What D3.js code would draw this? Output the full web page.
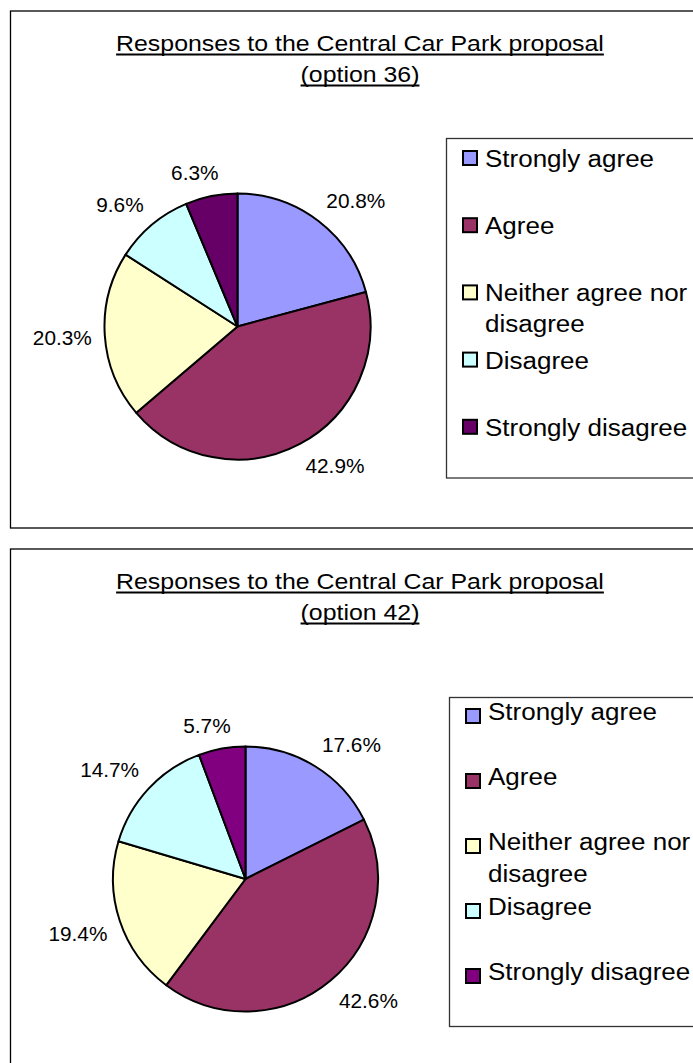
<!DOCTYPE html>
<html>
<head>
<meta charset="utf-8">
<script src="https://cdn.jsdelivr.net/npm/d3@7"></script>
<style>
  html, body { margin: 0; padding: 0; background: #ffffff; }
  svg { display: block; }
  text { font-family: "Liberation Sans", Arial, Helvetica, sans-serif; fill: #000; }
</style>
</head>
<body>
<svg id="chart" width="693" height="1063"></svg>
<script>
// Response categories, shared by both charts
const categories = ["Strongly agree", "Agree", "Neither agree nor disagree", "Disagree", "Strongly disagree"];
// Legend text, broken into the lines it wraps onto
const legendLines = [["Strongly agree"], ["Agree"], ["Neither agree nor", "disagree"], ["Disagree"], ["Strongly disagree"]];

// Share of responses (%) for each option
const option36Values = [20.8, 42.9, 20.3, 9.6, 6.3];
const option42Values = [17.6, 42.6, 19.4, 14.7, 5.7];

// Slice colours
const option36Colors = ["#9999FF", "#993366", "#FFFFCC", "#CCFFFF", "#660066"];
const option42Colors = ["#9999FF", "#993366", "#FFFFCC", "#CCFFFF", "#800080"];

// Chart titles
const option36Title = ["Responses to the Central Car Park proposal", "(option 36)"];
const option42Title = ["Responses to the Central Car Park proposal", "(option 42)"];

const svg = d3.select("#chart");
svg.append("rect").attr("width", 693).attr("height", 1063).attr("fill", "#fff");

// Stretch a text element horizontally by factor k; returns the stretched width
function stretch(sel, k) {
  let w = 0;
  sel.each(function () {
    const len = this.getComputedTextLength();
    w = len * k;
    d3.select(this).attr("textLength", w).attr("lengthAdjust", "spacingAndGlyphs");
  });
  return w;
}

function drawChart(cfg) {
  const g = svg.append("g");

  // outer chart frame
  g.append("rect")
    .attr("x", cfg.frame.x).attr("y", cfg.frame.y)
    .attr("width", cfg.frame.w).attr("height", cfg.frame.h)
    .attr("fill", "#fff").attr("stroke", "#000").attr("stroke-width", 1.3);

  // underlined two-line title
  cfg.title.forEach((line, i) => {
    const y = cfg.titleY + i * cfg.titleStep;
    const t = g.append("text")
      .attr("x", cfg.titleX).attr("y", y)
      .attr("text-anchor", "middle")
      .attr("font-size", 22)
      .text(line);
    const w = stretch(t, 1.13);
    g.append("line")
      .attr("x1", cfg.titleX - w / 2).attr("x2", cfg.titleX + w / 2)
      .attr("y1", y + 3.5).attr("y2", y + 3.5)
      .attr("stroke", "#000").attr("stroke-width", 1.8);
  });

  // pie
  const pie = d3.pie().sort(null).value(d => d)(cfg.values);
  const arc = d3.arc().innerRadius(0).outerRadius(cfg.r);
  const pg = g.append("g").attr("transform", `translate(${cfg.cx},${cfg.cy})`);
  pg.selectAll("path.slice")
    .data(pie)
    .join("path")
    .attr("class", "slice")
    .attr("d", arc)
    .attr("fill", (d, i) => cfg.colors[i])
    .attr("stroke", "#000")
    .attr("stroke-width", 2)
    .attr("stroke-linejoin", "round");

  // percentage labels, placed just outside each slice's mid angle
  const fmt = d3.format(".1f");
  const clamp = v => Math.max(-1, Math.min(1, v));
  pie.forEach((d, i) => {
    const a = (d.startAngle + d.endAngle) / 2;
    const ux = Math.sin(a), uy = -Math.cos(a);
    const t = pg.append("text")
      .attr("font-size", 20)
      .attr("text-anchor", "middle")
      .text(fmt(d.data) + "%");
    const hw = stretch(t, 1.04) / 2;
    const hh = 10;
    const rr = cfg.r + 13;
    const x = rr * ux + hw * clamp(3 * ux);
    const y = rr * uy + hh * clamp(3 * uy);
    t.attr("x", x).attr("y", y + 7);
  });

  // legend
  const L = cfg.legend;
  g.append("rect")
    .attr("x", L.x).attr("y", L.y).attr("width", L.w).attr("height", L.h)
    .attr("fill", "#fff").attr("stroke", "#333").attr("stroke-width", 1.3);
  let base = L.first;
  legendLines.forEach((lines, i) => {
    g.append("rect")
      .attr("x", L.x + 16.5).attr("y", base + L.boxOff)
      .attr("width", 14).attr("height", 14)
      .attr("fill", cfg.colors[i]).attr("stroke", "#000").attr("stroke-width", 2);
    lines.forEach((ln, j) => {
      const t = g.append("text")
        .attr("x", L.x + 38.5).attr("y", base + j * L.lineStep)
        .attr("font-size", 23)
        .text(ln);
      stretch(t, 1.13);
    });
    base += L.step;
  });
}

drawChart({
  values: option36Values, colors: option36Colors, title: option36Title,
  frame: { x: 10.5, y: 11, w: 720, h: 517 },
  titleX: 360, titleY: 51, titleStep: 31,
  cx: 237.5, cy: 326.5, r: 133,
  legend: { x: 446.5, y: 138.5, w: 280, h: 339.5, first: 167, step: 67.2, lineStep: 31, boxOff: -16 }
});

drawChart({
  values: option42Values, colors: option42Colors, title: option42Title,
  frame: { x: 10.5, y: 549, w: 720, h: 560 },
  titleX: 360, titleY: 589, titleStep: 31,
  cx: 245.5, cy: 879, r: 132.5,
  legend: { x: 449.5, y: 697.5, w: 280, h: 329, first: 720, step: 65, lineStep: 32, boxOff: -11 }
});
</script>
</body>
</html>
